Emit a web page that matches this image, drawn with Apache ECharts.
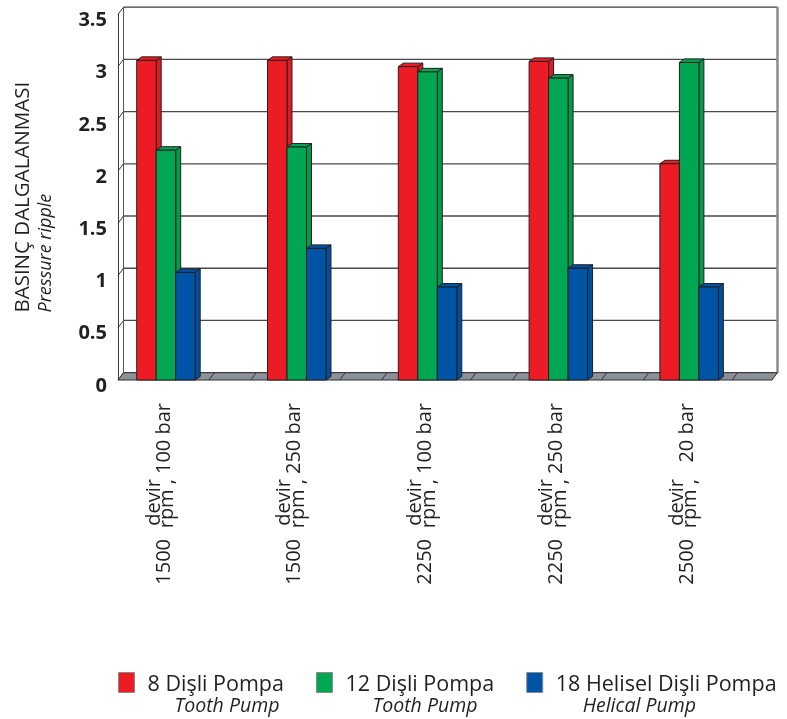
<!DOCTYPE html>
<html>
<head>
<meta charset="utf-8">
<script src="https://cdn.jsdelivr.net/npm/echarts@6/dist/echarts.min.js"></script>
<style>
  html, body { margin: 0; padding: 0; background: #ffffff; }
  #chart { width: 787px; height: 719px; }
</style>
</head>
<body>
<div id="chart"></div>
<script>
// ---- data ----
const speeds = ['1500', '1500', '2250', '2250', '2500'];
const pressures = ['100 bar', '250 bar', '100 bar', '250 bar', '20 bar'];
const categories = speeds.map((s, i) => s + ' devir/rpm, ' + pressures[i]);
const seriesNames = ['8 Dişli Pompa', '12 Dişli Pompa', '18 Helisel Dişli Pompa'];
const seriesSubtitles = ['Tooth Pump', 'Tooth Pump', 'Helical Pump'];
const tooth8 = [3.06, 3.06, 3.00, 3.05, 2.07];
const tooth12 = [2.20, 2.23, 2.95, 2.89, 3.04];
const helical18 = [1.03, 1.26, 0.89, 1.07, 0.89];
const yTicks = [0, 0.5, 1, 1.5, 2, 2.5, 3, 3.5];
const yTitle = 'BASINÇ DALGALANMASI';
const ySubtitle = 'Pressure ripple';

// ---- styling ----
const FONT = '"Open Sans", "Noto Sans", sans-serif';
const INK = '#231F20';
const EDGE = '#231F20';
const COLORS = ['#ED1C24', '#00A651', '#0054A6'];
const SIDES = ['#E01A22', '#009C4C', '#004F9C'];
const DX = 5.5, DY = -7.3;          // depth of walls and floor
const BDX = 5, BDY = -3.5;          // depth of each column
const BAR_OFFSET = 0.143;           // first column start inside its category band
const BAR_FRAC = 0.149;             // column width as a share of the band

const seriesValues = [tooth8, tooth12, helical18];
const yMin = yTicks[0];
const yMax = yTicks[yTicks.length - 1];
const yStep = yTicks[1] - yTicks[0];

function line(x1, y1, x2, y2, stroke, width) {
  return { type: 'line', shape: { x1, y1, x2, y2 }, style: { stroke, lineWidth: width || 1 } };
}

// walls, gridlines and floor drawn around the plot
function frameRenderer(params, api) {
  const n = categories.length;
  const band = api.size([1, 0])[0];
  const L = api.coord([0, yMin])[0] - band / 2;
  const R = api.coord([n - 1, yMin])[0] + band / 2;
  const B = api.coord([0, yMin])[1];
  const T = api.coord([0, yMax])[1];
  const kids = [];
  kids.push({ type: 'rect', shape: { x: L + DX, y: T + DY, width: R - L, height: B - T },
    style: { fill: '#ffffff' } });
  yTicks.forEach(t => {
    const y = api.coord([0, t])[1];
    kids.push(line(L + DX, y + DY, R + DX, y + DY, t === yMax ? '#3a3a3a' : '#4a4a4a', 1.3));
    kids.push(line(L, y, L + DX, y + DY, '#3a3a3a', 1));
  });
  kids.push(line(L + DX, T + DY, L + DX, B + DY, '#555555', 1));
  kids.push(line(R + DX, T + DY, R + DX, B + DY, '#8c8c8c', 2.5));
  kids.push({ type: 'polygon',
    shape: { points: [[L, B], [R, B], [R + DX, B + DY], [L + DX, B + DY]] },
    style: { fill: '#8C9199', stroke: '#333333', lineWidth: 1 } });
  for (let k = 0; k < n; k++) {
    const start = L + k * band;
    if (k > 0) kids.push(line(start + 2, B, start + 2 + DX, B + DY, '#333333', 1));
    const mid = start + 0.695 * band;
    kids.push(line(mid, B, mid + DX, B + DY, '#333333', 1));
  }
  return { type: 'group', children: kids };
}

// one 3D column per value
function barRenderer(s) {
  return function (params, api) {
    const i = api.value(0);
    const v = api.value(1);
    const band = api.size([1, 0])[0];
    const base = api.coord([i, yMin]);
    const top = api.coord([i, v]);
    const w = band * BAR_FRAC;
    const x0 = base[0] - band / 2 + band * (BAR_OFFSET + s * BAR_FRAC);
    const yT = top[1], yB = base[1];
    const st = { fill: COLORS[s], stroke: EDGE, lineWidth: 1 };
    return { type: 'group', children: [
      { type: 'polygon', shape: { points: [[x0 + w, yT], [x0 + w + BDX, yT + BDY], [x0 + w + BDX, yB + BDY], [x0 + w, yB]] },
        style: { fill: SIDES[s], stroke: EDGE, lineWidth: 1 } },
      { type: 'polygon', shape: { points: [[x0, yT], [x0 + w, yT], [x0 + w + BDX, yT + BDY], [x0 + BDX, yT + BDY]] },
        style: st },
      { type: 'rect', shape: { x: x0, y: yT, width: w, height: yB - yT }, style: st }
    ] };
  };
}

const chart = echarts.init(document.getElementById('chart'), null, { renderer: 'canvas' });

const barSeries = seriesNames.map((name, s) => ({
  name,
  type: 'custom',
  z: 3,
  itemStyle: { color: COLORS[s] },
  encode: { x: 0, y: 1 },
  data: seriesValues[s].map((v, i) => [i, v]),
  renderItem: barRenderer(s)
}));

chart.setOption({
  backgroundColor: '#ffffff',
  animation: false,
  textStyle: { fontFamily: FONT, color: INK },
  grid: { left: 118, right: 15, top: 14.4, bottom: 339, outerBoundsMode: 'none', containLabel: false },
  xAxis: {
    type: 'category',
    data: categories,
    axisLine: { show: false },
    axisTick: { show: false },
    splitLine: { show: false },
    axisLabel: {
      interval: 0,
      rotate: 90,
      margin: 23,
      fontFamily: FONT,
      fontSize: 20,
      color: INK,
      formatter: (value, idx) =>
        '{e1| }{d|devir}{e3| }\n{n|' + speeds[idx] + '}{r|rpm ,}{c|' + pressures[idx] + '}\n{sp| }',
      rich: {
        e1: { width: 50, lineHeight: 13.5, fontSize: 20, fontFamily: FONT },
        d: { width: 50, lineHeight: 13.5, fontSize: 20, fontFamily: FONT, color: INK },
        e3: { width: 76, lineHeight: 13.5, fontSize: 20, fontFamily: FONT },
        n: { lineHeight: 13.5, fontSize: 20, fontFamily: FONT, color: INK, padding: [0, 10, 7, 0] },
        r: { width: 50, lineHeight: 13.5, fontSize: 20, fontFamily: FONT, color: INK },
        c: { width: 76, lineHeight: 13.5, fontSize: 20, fontFamily: FONT, color: INK, padding: [0, 0, 7, 0] },
        sp: { width: 1, lineHeight: 45.5, fontSize: 20, fontFamily: FONT }
      }
    }
  },
  yAxis: {
    type: 'value',
    min: yMin,
    max: yMax,
    interval: yStep,
    name: '{a|' + yTitle + '}\n{b|' + ySubtitle + '}',
    nameLocation: 'middle',
    nameRotate: 90,
    nameGap: 60,
    nameTextStyle: {
      rich: {
        a: { fontFamily: FONT, fontSize: 20.5, color: INK, align: 'left', lineHeight: 21 },
        b: { fontFamily: FONT, fontSize: 18, fontStyle: 'italic', color: INK, align: 'left', lineHeight: 24 }
      }
    },
    axisLine: { show: true, lineStyle: { color: '#3a3a3a', width: 1 } },
    axisTick: { show: false },
    splitLine: { show: false },
    axisLabel: {
      margin: 11,
      color: INK,
      formatter: v => '{v|' + v + '}',
      rich: {
        v: { fontFamily: FONT, fontSize: 20, fontWeight: 'bold', color: INK, lineHeight: 20, padding: [12, 0, 0, 0] }
      }
    }
  },
  legend: {
    left: 118,
    top: 672,
    padding: 0,
    icon: 'rect',
    itemWidth: 16,
    itemHeight: 20,
    itemGap: 32,
    selectedMode: false,
    itemStyle: { borderColor: '#8a8a8a', borderWidth: 1 },
    data: seriesNames,
    formatter: name => {
      const i = seriesNames.indexOf(name);
      return '{a|' + name + '}\n{p| }{b|' + seriesSubtitles[i] + '}';
    },
    textStyle: {
      padding: [26, 0, 0, 8],
      rich: {
        a: { fontFamily: FONT, fontSize: 21.5, color: INK, lineHeight: 22, align: 'left' },
        p: { width: 27, lineHeight: 22, align: 'left' },
        b: { fontFamily: FONT, fontSize: 19.5, fontStyle: 'italic', color: INK, lineHeight: 22, align: 'left' }
      }
    }
  },
  series: [
    {
      name: 'frame',
      type: 'custom',
      z: 1,
      silent: true,
      encode: { x: 0, y: 1 },
      data: [[0, yMin]],
      renderItem: frameRenderer
    }
  ].concat(barSeries)
});
</script>
</body>
</html>
